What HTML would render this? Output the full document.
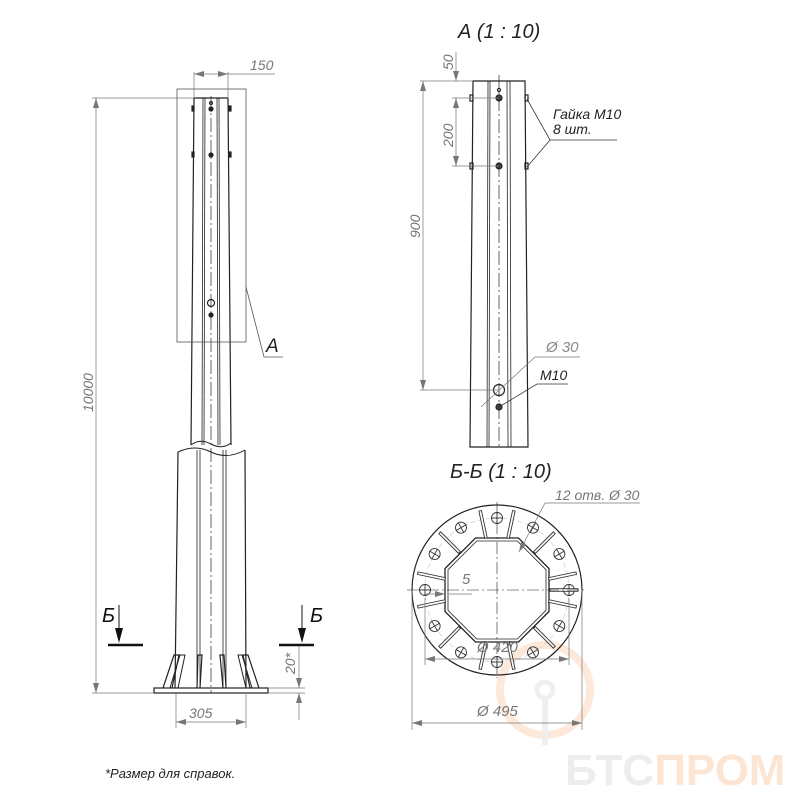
<!DOCTYPE html>
<html><head><meta charset="utf-8"><style>
html,body{margin:0;padding:0;background:#fff}
svg{display:block}
text{font-family:"Liberation Sans",sans-serif;font-style:italic}
</style></head><body>
<svg width="800" height="800" viewBox="0 0 800 800" xmlns="http://www.w3.org/2000/svg">
<defs>
<marker id="ar" viewBox="0 0 10 6" refX="10" refY="3" markerWidth="10" markerHeight="6" orient="auto-start-reverse" markerUnits="userSpaceOnUse"><path d="M0,0 L10,3 L0,6 z" fill="#777"/></marker>
</defs>
<g opacity="0.9">
<circle cx="545" cy="690" r="45" fill="none" stroke="#fde6d6" stroke-width="8"/>
<line x1="545" y1="700" x2="545" y2="745" stroke="#eee" stroke-width="6"/>
<circle cx="545" cy="690" r="8" fill="none" stroke="#eee" stroke-width="5"/>
<text x="565" y="785" font-size="44" font-weight="bold" style="font-style:normal" fill="#ececec">БТС<tspan fill="#fde3d0">ПРОМ</tspan></text>
</g>

<g stroke="#222" fill="none" stroke-width="1.2">
<path d="M194,98 L191,445 M228,98 L231,445" />
<path d="M194,98 H228"/>
<line x1="203" y1="98" x2="202" y2="445" stroke-width="0.8"/>
<line x1="205" y1="98" x2="204" y2="445" stroke-width="0.8"/>
<line x1="217" y1="98" x2="218" y2="445" stroke-width="0.8"/>
<line x1="219" y1="98" x2="220" y2="445" stroke-width="0.8"/>
<path d="M191,445 Q200,438 211,444 T231,443" stroke-width="1"/>
<path d="M178,452 Q195,444 211,452 T245,450" stroke-width="1"/>
<line x1="178" y1="452" x2="175" y2="688"/>
<line x1="245" y1="450" x2="246" y2="688"/>
<line x1="197" y1="450" x2="197" y2="688" stroke-width="0.8"/>
<line x1="200" y1="450" x2="200" y2="688" stroke-width="0.8"/>
<line x1="223" y1="450" x2="223" y2="688" stroke-width="0.8"/>
<line x1="226" y1="450" x2="226" y2="688" stroke-width="0.8"/>
<rect x="154" y="688" width="114" height="5"/>
<path d="M163,688 L174,655 L179,655 L172,688"/>
<path d="M170,688 L180,655 L185,655 L178,688" stroke-width="1"/>
<path d="M197,688 L198,655 L202,655 L200,688"/>
<path d="M226,688 L224,655 L220,655 L223,688"/>
<path d="M259,688 L248,655 L243,655 L250,688"/>
<path d="M252,688 L242,655 L238,655 L246,688" stroke-width="1"/>
<circle cx="211" cy="103" r="1.5"/>
<circle cx="211" cy="109" r="2" fill="#222"/>
<circle cx="211" cy="155" r="2" fill="#222"/>
<circle cx="211" cy="303" r="3.5"/>
<circle cx="211" cy="315" r="2" fill="#222"/>
<rect x="192" y="106" width="2" height="5" fill="#222"/><rect x="229" y="106" width="2" height="5" fill="#222"/>
<rect x="192" y="152" width="2" height="5" fill="#222"/><rect x="229" y="152" width="2" height="5" fill="#222"/>
</g>
<line x1="211" y1="96" x2="211" y2="693" stroke="#222" stroke-width="0.7" stroke-dasharray="14,3,2,3"/>
<g stroke="#555" fill="none" stroke-width="0.8">
<rect x="177" y="89" width="69" height="253"/>
<polyline points="246,287 264,357 283,357"/>
</g>
<text x="266" y="352" font-size="19" fill="#222">А</text>
<g stroke="#777" stroke-width="0.7" fill="none">
<line x1="194" y1="72" x2="194" y2="98"/><line x1="228" y1="72" x2="228" y2="98"/>
<line x1="194" y1="74" x2="228" y2="74" marker-start="url(#ar)" marker-end="url(#ar)"/>
<line x1="228" y1="74" x2="275" y2="74"/>
<line x1="92" y1="98" x2="194" y2="98"/>
<line x1="92" y1="693" x2="154" y2="693"/>
<line x1="96" y1="98" x2="96" y2="693" marker-start="url(#ar)" marker-end="url(#ar)"/>
<line x1="176" y1="693" x2="176" y2="728"/><line x1="246" y1="693" x2="246" y2="728"/>
<line x1="176" y1="722" x2="246" y2="722" marker-start="url(#ar)" marker-end="url(#ar)"/>
<line x1="268" y1="688" x2="305" y2="688"/><line x1="268" y1="693" x2="305" y2="693"/>
<line x1="299" y1="645" x2="299" y2="688" marker-end="url(#ar)"/>
<line x1="299" y1="720" x2="299" y2="693" marker-end="url(#ar)"/>
</g>
<text x="250" y="70" font-size="14" fill="#777">150</text>
<text x="189" y="718" font-size="14" fill="#777">305</text>
<text transform="translate(93,412) rotate(-90)" font-size="14" fill="#777">10000</text>
<text transform="translate(295,674) rotate(-90)" font-size="14" fill="#777">20*</text>
<g stroke="#111" stroke-width="2.5"><line x1="108" y1="645" x2="143" y2="645"/><line x1="279" y1="645" x2="314" y2="645"/></g>
<g stroke="#111" stroke-width="1"><line x1="119" y1="605" x2="119" y2="636"/><line x1="302" y1="605" x2="302" y2="636"/></g>
<path d="M115,628 L119,643 L123,628z M298,628 L302,643 L306,628z" fill="#111"/>
<text x="102" y="622" font-size="20" fill="#111">Б</text>
<text x="310" y="622" font-size="20" fill="#111">Б</text>

<text x="458" y="38" font-size="20" fill="#222">А (1 : 10)</text>
<g stroke="#222" fill="none" stroke-width="1.2">
<path d="M473,81 L470,447 H528 L525,81 Z"/>
<line x1="488" y1="81" x2="487" y2="447" stroke-width="0.8"/>
<line x1="490" y1="81" x2="489" y2="447" stroke-width="0.8"/>
<line x1="507" y1="81" x2="508" y2="447" stroke-width="0.8"/>
<line x1="510" y1="81" x2="511" y2="447" stroke-width="0.8"/>
<circle cx="499" cy="90" r="1.5"/>
<circle cx="499" cy="98" r="3" fill="#444"/>
<circle cx="499" cy="166" r="3" fill="#444"/>
<circle cx="499" cy="390" r="5.5"/>
<circle cx="499" cy="407" r="3" fill="#444"/>
<rect x="470" y="95" width="3" height="6"/><rect x="525" y="95" width="3" height="6"/>
<rect x="470" y="163" width="3" height="6"/><rect x="525" y="163" width="3" height="6"/>
</g>
<line x1="499" y1="75" x2="499" y2="447" stroke="#222" stroke-width="0.7" stroke-dasharray="14,3,2,3"/>
<g stroke="#777" stroke-width="0.7" fill="none">
<line x1="420" y1="81" x2="473" y2="81"/>
<line x1="420" y1="390" x2="499" y2="390"/>
<line x1="423" y1="81" x2="423" y2="390" marker-start="url(#ar)" marker-end="url(#ar)"/>
<line x1="452" y1="98" x2="499" y2="98"/><line x1="452" y1="166" x2="499" y2="166"/>
<line x1="456" y1="52" x2="456" y2="81" marker-end="url(#ar)"/>
<line x1="456" y1="98" x2="456" y2="166" marker-start="url(#ar)" marker-end="url(#ar)"/>
<line x1="481" y1="407" x2="535" y2="357"/><line x1="535" y1="357" x2="580" y2="357"/>
</g>
<text transform="translate(453,70) rotate(-90)" font-size="14" fill="#777">50</text>
<text transform="translate(453,147) rotate(-90)" font-size="14" fill="#777">200</text>
<text transform="translate(420,238) rotate(-90)" font-size="14" fill="#777">900</text>
<g stroke="#333" stroke-width="0.8" fill="none">
<polyline points="527,99 550,140 617,140"/><line x1="550" y1="140" x2="527" y2="167"/>
<polyline points="499,407 537,384 568,384"/>
</g>
<text x="553" y="119" font-size="14" fill="#222">Гайка М10</text>
<text x="553" y="134" font-size="14" fill="#222">8 шт.</text>
<text x="546" y="352" font-size="15" fill="#888">Ø 30</text>
<text x="540" y="380" font-size="14" fill="#222">М10</text>

<text x="450" y="478" font-size="20" fill="#222">Б-Б (1 : 10)</text>
<g transform="translate(497,590)">
<circle r="85" fill="none" stroke="#222" stroke-width="1.2"/>
<circle r="72" fill="none" stroke="#ccc" stroke-width="0.7" stroke-dasharray="5,3"/>
<polygon points="52,21.5 21.5,52 -21.5,52 -52,21.5 -52,-21.5 -21.5,-52 21.5,-52 52,-21.5" fill="none" stroke="#222" stroke-width="1.3"/>
<polygon points="49,20.3 20.3,49 -20.3,49 -49,20.3 -49,-20.3 -20.3,-49 20.3,-49 49,-20.3" fill="none" stroke="#222" stroke-width="0.8"/>
<g fill="none" stroke="#333" stroke-width="0.9">
<g id="h"><circle cx="72" cy="0" r="5.5"/><line x1="66" y1="0" x2="78" y2="0"/><line x1="72" y1="-6" x2="72" y2="6"/></g>
<use href="#h" transform="rotate(30)"/><use href="#h" transform="rotate(60)"/><use href="#h" transform="rotate(90)"/>
<use href="#h" transform="rotate(120)"/><use href="#h" transform="rotate(150)"/><use href="#h" transform="rotate(180)"/>
<use href="#h" transform="rotate(210)"/><use href="#h" transform="rotate(240)"/><use href="#h" transform="rotate(270)"/>
<use href="#h" transform="rotate(300)"/><use href="#h" transform="rotate(330)"/>
</g>
<g fill="#fff" stroke="#333" stroke-width="0.9">
<g id="r"><rect x="53" y="-1.3" width="28" height="2.6"/></g>
<use href="#r" transform="rotate(12)"/><use href="#r" transform="rotate(-12)"/>
<use href="#r" transform="rotate(78)"/><use href="#r" transform="rotate(102)"/>
<use href="#r" transform="rotate(168)"/><use href="#r" transform="rotate(192)"/>
<use href="#r" transform="rotate(258)"/><use href="#r" transform="rotate(282)"/>
<use href="#r" transform="rotate(45)"/><use href="#r" transform="rotate(135)"/>
<use href="#r" transform="rotate(225)"/><use href="#r" transform="rotate(315)"/>
</g>
<g stroke="#222" stroke-width="0.6" stroke-dasharray="12,3,2,3">
<line x1="-90" y1="0" x2="90" y2="0"/><line x1="0" y1="-88" x2="0" y2="88"/>
</g>
</g>
<g stroke="#777" stroke-width="0.7" fill="none">
<line x1="425" y1="598" x2="425" y2="665"/><line x1="569" y1="598" x2="569" y2="665"/>
<line x1="425" y1="659" x2="569" y2="659" marker-start="url(#ar)" marker-end="url(#ar)"/>
<line x1="412" y1="590" x2="412" y2="730"/><line x1="582" y1="590" x2="582" y2="730"/>
<line x1="412" y1="723" x2="582" y2="723" marker-start="url(#ar)" marker-end="url(#ar)"/>
<line x1="519" y1="552" x2="545" y2="503" marker-start="url(#ar)"/><line x1="545" y1="503" x2="640" y2="503"/>
<line x1="424" y1="594" x2="445" y2="594" marker-end="url(#ar)"/><line x1="449" y1="594" x2="472" y2="594"/>
</g>
<text x="477" y="652" font-size="15" fill="#777">Ø 420</text>
<text x="477" y="716" font-size="15" fill="#777">Ø 495</text>
<text x="555" y="500" font-size="14" fill="#777">12 отв. Ø 30</text>
<text x="462" y="584" font-size="15" fill="#777">5</text>

<text x="105" y="778" font-size="13" fill="#222">*Размер для справок.</text>
</svg>
</body></html>
